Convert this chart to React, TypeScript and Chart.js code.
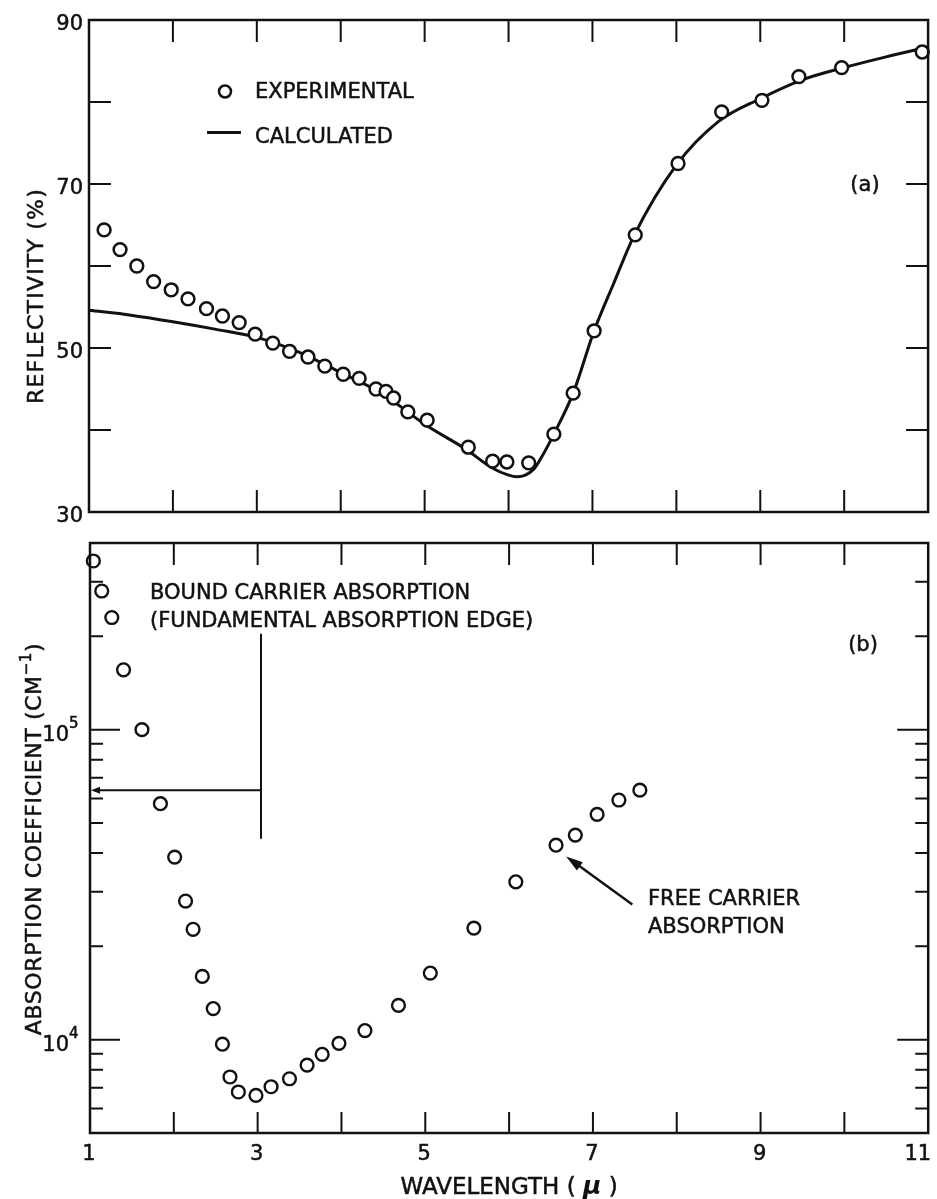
import React, { useEffect, useRef } from 'react';
import { Chart, registerables } from 'chart.js';

Chart.register(...registerables);

const FONT = '"DejaVu Sans", "Liberation Sans", sans-serif';
const INK = '#111111';

// ---------- Panel (a): reflectivity ----------
const expWavelength = [1.18, 1.37, 1.57, 1.77, 1.98, 2.18, 2.4, 2.59, 2.79, 2.98, 3.19, 3.39, 3.61, 3.81, 4.03, 4.22, 4.42, 4.54, 4.63, 4.8, 5.03, 5.52, 5.81, 5.98, 6.24, 6.54, 6.77, 7.02, 7.51, 8.02, 8.54, 9.02, 9.46, 9.97, 10.93];
const expReflectivity = [64.4, 62.0, 60.0, 58.1, 57.1, 56.0, 54.8, 53.9, 53.1, 51.7, 50.6, 49.6, 48.9, 47.8, 46.8, 46.3, 45.0, 44.7, 43.9, 42.2, 41.2, 37.9, 36.2, 36.1, 36.0, 39.5, 44.5, 52.1, 63.8, 72.5, 78.8, 80.2, 83.1, 84.2, 86.1];
const calcWavelength = [1.0, 1.5, 2.0, 2.5, 3.0, 3.5, 4.0, 4.5, 5.0, 5.5, 5.8, 6.0, 6.1, 6.2, 6.3, 6.4, 6.54, 6.77, 7.02, 7.25, 7.5, 8.0, 8.5, 9.0, 9.5, 10.0, 10.5, 11.0];
const calcReflectivity = [54.6, 54.0, 53.2, 52.3, 51.3, 49.5, 47.0, 44.4, 40.7, 37.6, 35.4, 34.5, 34.3, 34.5, 35.2, 36.8, 39.5, 44.5, 52.1, 57.8, 63.8, 72.3, 77.6, 80.4, 82.7, 84.2, 85.5, 86.7];
const reflectivityTickValues = [40, 50, 60, 70, 80];
const reflectivityLabelValues = [30, 50, 70, 90];

// ---------- Panel (b): absorption coefficient ----------
const absWavelength = [1.04, 1.14, 1.26, 1.4, 1.62, 1.84, 2.01, 2.14, 2.23, 2.34, 2.47, 2.58, 2.67, 2.77, 2.98, 3.16, 3.38, 3.59, 3.77, 3.97, 4.28, 4.68, 5.06, 5.58, 6.08, 6.56, 6.79, 7.05, 7.31, 7.56];
const absCoefficient = [350000, 280000, 230000, 156000, 100000, 57700, 38800, 28000, 22700, 16000, 12600, 9670, 7580, 6780, 6610, 7050, 7480, 8280, 8970, 9730, 10700, 12900, 16400, 22900, 32300, 42400, 45700, 53300, 59300, 63800];
const absMinorTicks = [6000, 7000, 8000, 9000, 20000, 30000, 40000, 50000, 60000, 70000, 80000, 90000, 200000, 300000];
const absMajorTicks = [10000, 100000];
const absMajorLabels = [{ base: '10', exp: '4' }, { base: '10', exp: '5' }];

// ---------- shared ----------
const wavelengthTicks = [2, 3, 4, 5, 6, 7, 8, 9, 10];
const wavelengthLabelValues = [1, 3, 5, 7, 9, 11];

// annotation anchors (data coordinates)
const boundMarkWavelength = 3.04;
const boundMarkTop = 204000;
const boundMarkBottom = 44500;
const boundArrowLevel = 63700;
const freeArrowFrom = { x: 7.47, y: 27300 };
const freeArrowTo = { x: 6.68, y: 39000 };

const TEXT_STROKE = 0.5;

function arrowHead(ctx: CanvasRenderingContext2D, x: number, y: number, angle: number, len: number, halfW: number) {
  const c = Math.cos(angle), s = Math.sin(angle);
  ctx.beginPath();
  ctx.moveTo(x, y);
  ctx.lineTo(x - len * c + halfW * s, y - len * s - halfW * c);
  ctx.lineTo(x - len * c - halfW * s, y - len * s + halfW * c);
  ctx.closePath();
  ctx.fill();
}

function inkText(ctx: CanvasRenderingContext2D, text: string, x: number, y: number) {
  ctx.fillText(text, x, y);
  ctx.save();
  ctx.lineWidth = TEXT_STROKE;
  ctx.strokeStyle = INK;
  ctx.strokeText(text, x, y);
  ctx.restore();
}

function capText(ctx: CanvasRenderingContext2D, text: string, x: number, cy: number, size: number, align: CanvasTextAlign = 'left') {
  ctx.font = `${size}px ${FONT}`;
  ctx.textAlign = align;
  ctx.textBaseline = 'alphabetic';
  inkText(ctx, text, x, cy + size * 0.365);
}

// rotated (-90deg) title made of runs; each run: [text, size, rise]
function verticalTitle(ctx: CanvasRenderingContext2D, runs: [string, number, number][], cx: number, cy: number, capSize: number, spacing: number) {
  ctx.save();
  ctx.translate(cx, cy);
  ctx.rotate(-Math.PI / 2);
  ctx.textAlign = 'left';
  ctx.textBaseline = 'alphabetic';
  (ctx as any).letterSpacing = `${spacing}px`;
  let total = 0;
  const widths = runs.map(([t, sz]) => { ctx.font = `${sz}px ${FONT}`; const w = ctx.measureText(t).width; total += w; return w; });
  let pos = -total / 2;
  runs.forEach(([t, sz, rise], i) => {
    ctx.font = `${sz}px ${FONT}`;
    inkText(ctx, t, pos, capSize * 0.365 - rise);
    pos += widths[i];
  });
  (ctx as any).letterSpacing = '0px';
  ctx.restore();
}

const topDecor = {
  id: 'topDecor',
  afterDraw(chart: any) {
    const { ctx, chartArea: a, scales } = chart;
    const x = scales.x, y = scales.y;
    ctx.save();
    ctx.strokeStyle = INK;
    ctx.fillStyle = INK;
    ctx.lineWidth = 2.5;
    ctx.strokeRect(a.left, a.top, a.right - a.left, a.bottom - a.top);
    ctx.lineWidth = 2;
    ctx.beginPath();
    for (const v of wavelengthTicks) {
      const px = x.getPixelForValue(v);
      ctx.moveTo(px, a.top); ctx.lineTo(px, a.top + 22);
      ctx.moveTo(px, a.bottom); ctx.lineTo(px, a.bottom - 22);
    }
    for (const v of reflectivityTickValues) {
      const py = y.getPixelForValue(v);
      ctx.moveTo(a.left, py); ctx.lineTo(a.left + 22, py);
      ctx.moveTo(a.right, py); ctx.lineTo(a.right - 22, py);
    }
    ctx.stroke();

    // y tick labels
    for (const v of reflectivityLabelValues) {
      capText(ctx, String(v), a.left - 6, y.getPixelForValue(v) + 2, 21, 'right');
    }

    // y title
    verticalTitle(ctx, [['REFLECTIVITY (%)', 22, 0]], 35, 296, 22, 1.2);

    // legend
    ctx.lineWidth = 2.5;
    ctx.beginPath();
    ctx.arc(225, 91.5, 6, 0, Math.PI * 2);
    ctx.stroke();
    capText(ctx, 'EXPERIMENTAL', 255, 90.5, 21);
    ctx.lineWidth = 3;
    ctx.beginPath();
    ctx.moveTo(207, 132.5); ctx.lineTo(241, 132.5);
    ctx.stroke();
    capText(ctx, 'CALCULATED', 255, 135.5, 21);
    capText(ctx, '(a)', 865, 183, 21, 'center');
    ctx.restore();
  },
};

const bottomDecor = {
  id: 'bottomDecor',
  afterDraw(chart: any) {
    const { ctx, chartArea: a, scales } = chart;
    const x = scales.x, y = scales.y;
    ctx.save();
    ctx.strokeStyle = INK;
    ctx.fillStyle = INK;
    ctx.lineWidth = 2.5;
    ctx.strokeRect(a.left, a.top, a.right - a.left, a.bottom - a.top);
    ctx.lineWidth = 2;
    ctx.beginPath();
    for (const v of wavelengthTicks) {
      const px = x.getPixelForValue(v);
      ctx.moveTo(px, a.top); ctx.lineTo(px, a.top + 22);
      ctx.moveTo(px, a.bottom); ctx.lineTo(px, a.bottom - 21);
    }
    for (const v of absMinorTicks) {
      const py = y.getPixelForValue(v);
      ctx.moveTo(a.left, py); ctx.lineTo(a.left + 13, py);
      ctx.moveTo(a.right, py); ctx.lineTo(a.right - 13, py);
    }
    for (const v of absMajorTicks) {
      const py = y.getPixelForValue(v);
      ctx.moveTo(a.left, py); ctx.lineTo(a.left + 30, py);
      ctx.moveTo(a.right, py); ctx.lineTo(a.right - 31, py);
    }
    ctx.stroke();

    // x tick labels
    for (const v of wavelengthLabelValues) {
      const px = x.getPixelForValue(v);
      if (v === wavelengthLabelValues[wavelengthLabelValues.length - 1]) {
        capText(ctx, String(v), px + 3, 1152, 21, 'right');
      } else {
        capText(ctx, String(v), px - 1, 1152, 21, 'center');
      }
    }

    // x title with italic mu
    {
      const cy = 1186;
      const partA = 'WAVELENGTH ( ';
      const partB = 'μ';
      const partC = ' )';
      ctx.font = `23px ${FONT}`;
      const wA = ctx.measureText(partA).width;
      const wC = ctx.measureText(partC).width;
      ctx.font = `italic bold 25px ${FONT}`;
      const wB = ctx.measureText(partB).width;
      let sx = (a.left + a.right) / 2 - (wA + wB + wC) / 2;
      capText(ctx, partA, sx, cy, 23);
      sx += wA;
      ctx.font = `italic bold 25px ${FONT}`;
      ctx.textAlign = 'left';
      ctx.fillText(partB, sx, cy + 23 * 0.365);
      sx += wB;
      capText(ctx, partC, sx, cy, 23);
    }

    // log tick labels 10^4, 10^5
    absMajorTicks.forEach((v, i) => {
      const py = y.getPixelForValue(v);
      const lab = absMajorLabels[i];
      ctx.font = `15px ${FONT}`;
      ctx.textAlign = 'left';
      ctx.textBaseline = 'alphabetic';
      inkText(ctx, lab.exp, a.left - 21, py - 2);
      capText(ctx, lab.base, a.left - 21, py + 4, 21, 'right');
    });

    // y title
    verticalTitle(ctx, [['ABSORPTION COEFFICIENT (CM', 22, 0], ['−1', 15, 10], [')', 22, 0]], 33, 839, 22, 0.6);

    // bound carrier marker
    const bx = x.getPixelForValue(boundMarkWavelength);
    const by = y.getPixelForValue(boundArrowLevel);
    ctx.lineWidth = 2;
    ctx.beginPath();
    ctx.moveTo(bx, y.getPixelForValue(boundMarkTop));
    ctx.lineTo(bx, y.getPixelForValue(boundMarkBottom));
    ctx.moveTo(bx, by);
    ctx.lineTo(a.left + 6, by);
    ctx.stroke();
    arrowHead(ctx, a.left + 1, by, Math.PI, 9, 3.5);

    capText(ctx, 'BOUND CARRIER ABSORPTION', 150, 591.5, 21);
    capText(ctx, '(FUNDAMENTAL ABSORPTION EDGE)', 150, 619, 21);

    // free carrier arrow
    const fx0 = x.getPixelForValue(freeArrowFrom.x), fy0 = y.getPixelForValue(freeArrowFrom.y);
    const fx1 = x.getPixelForValue(freeArrowTo.x), fy1 = y.getPixelForValue(freeArrowTo.y);
    const ang = Math.atan2(fy1 - fy0, fx1 - fx0);
    ctx.lineWidth = 2.4;
    ctx.beginPath();
    ctx.moveTo(fx0, fy0);
    ctx.lineTo(fx1 - 10 * Math.cos(ang), fy1 - 10 * Math.sin(ang));
    ctx.stroke();
    arrowHead(ctx, fx1, fy1, ang, 17, 5);
    capText(ctx, 'FREE CARRIER', 648, 897.5, 21);
    capText(ctx, 'ABSORPTION', 648, 925.5, 21);
    capText(ctx, '(b)', 863, 643, 21, 'center');
    ctx.restore();
  },
};

export default function App() {
  const topRef = useRef<HTMLCanvasElement>(null);
  const botRef = useRef<HTMLCanvasElement>(null);

  useEffect(() => {
    const top = new Chart(topRef.current as HTMLCanvasElement, {
      type: 'scatter',
      data: {
        datasets: [
          {
            label: 'EXPERIMENTAL',
            data: expWavelength.map((v, i) => ({ x: v, y: expReflectivity[i] })),
            showLine: false,
            pointRadius: 6.4,
            pointBorderWidth: 2.5,
            pointBackgroundColor: '#ffffff',
            pointBorderColor: INK,
            order: 0,
            clip: false,
          } as any,
          {
            label: 'CALCULATED',
            data: calcWavelength.map((v, i) => ({ x: v, y: calcReflectivity[i] })),
            showLine: true,
            pointRadius: 0,
            borderColor: INK,
            borderWidth: 3,
            cubicInterpolationMode: 'monotone',
            order: 1,
            clip: false,
          } as any,
        ],
      },
      options: {
        responsive: false,
        animation: false,
        devicePixelRatio: 1,
        events: [],
        layout: { padding: { left: 0, top: 20, right: 8, bottom: 1199 - 512 } },
        plugins: { legend: { display: false }, tooltip: { enabled: false } },
        scales: {
          x: { type: 'linear', min: 1, max: 11, display: false },
          y: {
            type: 'linear',
            min: 30,
            max: 90,
            grid: { display: false, drawTicks: false },
            border: { display: false },
            ticks: { display: false, stepSize: 10 },
            title: { display: false },
            afterFit: (s: any) => { s.width = 89; s.paddingTop = 0; s.paddingBottom = 0; },
          },
        },
      },
      plugins: [topDecor],
    } as any);

    const bot = new Chart(botRef.current as HTMLCanvasElement, {
      type: 'scatter',
      data: {
        datasets: [
          {
            label: 'ABSORPTION',
            data: absWavelength.map((v, i) => ({ x: v, y: absCoefficient[i] })),
            showLine: false,
            pointRadius: 6.4,
            pointBorderWidth: 2.4,
            pointBackgroundColor: '#ffffff',
            pointBorderColor: INK,
            clip: false,
          } as any,
        ],
      },
      options: {
        responsive: false,
        animation: false,
        devicePixelRatio: 1,
        events: [],
        layout: { padding: { left: 0, top: 543, right: 7, bottom: 0 } },
        plugins: { legend: { display: false }, tooltip: { enabled: false } },
        scales: {
          x: {
            type: 'linear',
            min: 1,
            max: 11,
            grid: { display: false, drawTicks: false },
            border: { display: false },
            ticks: { display: false, stepSize: 1 },
            title: { display: false },
            afterFit: (s: any) => { s.height = 66; s.paddingLeft = 0; s.paddingRight = 0; },
          },
          y: {
            type: 'logarithmic',
            min: 5000,
            max: 400000,
            grid: { display: false, drawTicks: false },
            border: { display: false },
            ticks: { display: false },
            title: { display: false },
            afterFit: (s: any) => { s.width = 90; s.paddingTop = 0; s.paddingBottom = 0; },
          },
        },
      },
      plugins: [bottomDecor],
    } as any);

    return () => {
      top.destroy();
      bot.destroy();
    };
  }, []);

  return (
    <div style={{ position: 'absolute', left: 0, top: 0, width: 937, height: 1199, background: '#ffffff' }}>
      <canvas ref={botRef} width={937} height={1199} style={{ position: 'absolute', left: 0, top: 0, width: 937, height: 1199 }} />
      <canvas ref={topRef} width={937} height={1199} style={{ position: 'absolute', left: 0, top: 0, width: 937, height: 1199 }} />
    </div>
  );
}
